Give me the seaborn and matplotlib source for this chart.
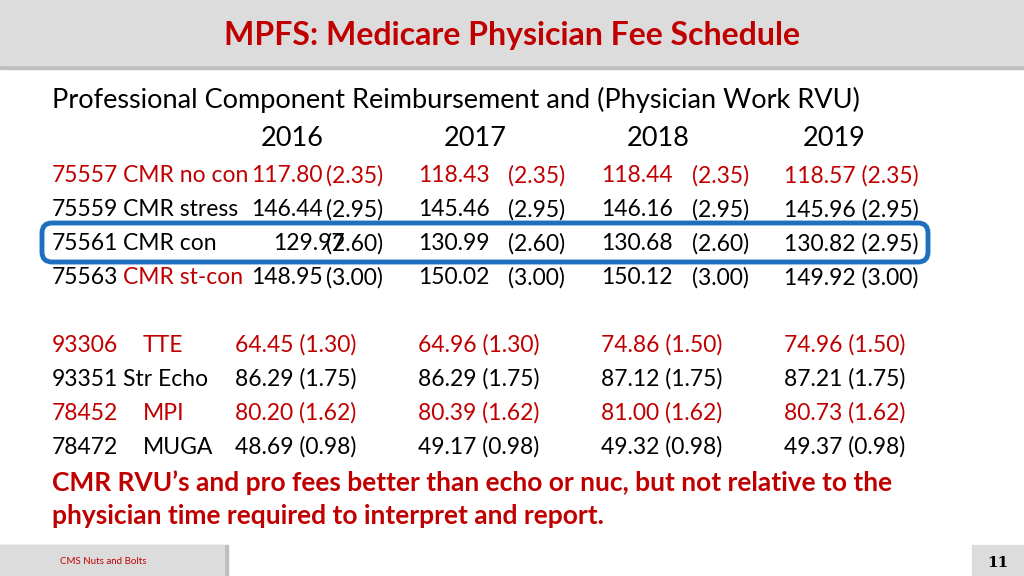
import matplotlib.pyplot as plt
from matplotlib.patches import Rectangle, FancyBboxPatch
import seaborn as sns

sns.set_theme(style="white")
plt.rcParams['font.family'] = 'Lato'
plt.rcParams['text.color'] = 'black'

RED = '#C00000'
years = ['2016', '2017', '2018', '2019']

# CMR rows: code, name, fees per year, RVU per year
cmr_codes = ['75557', '75559', '75561', '75563']
cmr_names = ['CMR no con', 'CMR stress', 'CMR con', 'CMR st-con']
cmr_fees = [[117.80, 118.43, 118.44, 118.57],
            [146.44, 145.46, 146.16, 145.96],
            [129.97, 130.99, 130.68, 130.82],
            [148.95, 150.02, 150.12, 149.92]]
cmr_rvus = [[2.35, 2.35, 2.35, 2.35],
            [2.95, 2.95, 2.95, 2.95],
            [2.60, 2.60, 2.60, 2.95],
            [3.00, 3.00, 3.00, 3.00]]

# comparison rows
cmp_codes = ['93306', '93351', '78452', '78472']
cmp_names = ['TTE', 'Str Echo', 'MPI', 'MUGA']
cmp_fees = [[64.45, 64.96, 74.86, 74.96],
            [86.29, 86.29, 87.12, 87.21],
            [80.20, 80.39, 81.00, 80.73],
            [48.69, 49.17, 49.32, 49.37]]
cmp_rvus = [[1.30, 1.30, 1.50, 1.50],
            [1.75, 1.75, 1.75, 1.75],
            [1.62, 1.62, 1.62, 1.62],
            [0.98, 0.98, 0.98, 0.98]]
cmp_red = [True, False, True, False]

fig = plt.figure(figsize=(10.24, 5.76), dpi=100)
ax = fig.add_axes([0, 0, 1, 1])
ax.set_xlim(0, 1024)
ax.set_ylim(576, 0)
ax.axis('off')

# title band
ax.add_patch(Rectangle((0, 3), 1024, 66, color='#bfbfbf', zorder=0))
ax.add_patch(Rectangle((0, 0), 1024, 65, color='#dcdcdc', zorder=1))
ax.text(512, 35, 'MPFS: Medicare Physician Fee Schedule', ha='center', va='center',
        fontsize=23, fontweight='bold', color=RED, zorder=2)

ax.text(52, 100, 'Professional Component Reimbursement and (Physician Work RVU)',
        va='center', fontsize=19.5)
for x, yr in zip([292, 475, 658, 834], years):
    ax.text(x, 139, yr, ha='center', va='center', fontsize=19.5)

fee_x = [251, 418, 601, 784]
rvu_x = [326, 508, 692]
fs = 16.5
for i in range(4):
    y = 176 + 34 * i
    red_row = i == 0
    c = RED if red_row else 'black'
    ax.text(52, y, cmr_codes[i], va='center', fontsize=fs, color=c)
    ax.text(123, y, cmr_names[i], va='center', fontsize=fs,
            color=RED if i in (0, 3) else 'black')
    for j in range(4):
        if j == 3:
            ax.text(fee_x[j], y, f'{cmr_fees[i][j]:.2f} ({cmr_rvus[i][j]:.2f})',
                    va='center', fontsize=fs, color=c)
        else:
            ax.text(fee_x[j] + (22 if i == 2 and j == 0 else 0), y, f'{cmr_fees[i][j]:.2f}',
                    va='center', fontsize=fs, color=c)
            ax.text(rvu_x[j], y, f'({cmr_rvus[i][j]:.2f})',
                    va='center', fontsize=fs, color=c)

ax.add_patch(FancyBboxPatch((42, 223), 886, 39, boxstyle='round,pad=0,rounding_size=10',
                            fill=False, ec='#1F6FBF', lw=3.5))

cmp_x = [235, 418, 601, 784]
for i in range(4):
    y = 345 + 34 * i
    c = RED if cmp_red[i] else 'black'
    ax.text(52, y, cmp_codes[i], va='center', fontsize=fs, color=c)
    ax.text(123 if i == 1 else 143, y, cmp_names[i], va='center', fontsize=fs, color=c)
    for j in range(4):
        ax.text(cmp_x[j], y, f'{cmp_fees[i][j]:.2f} ({cmp_rvus[i][j]:.2f})',
                va='center', fontsize=fs, color=c)

ax.text(52, 483, 'CMR RVU’s and pro fees better than echo or nuc, but not relative to the',
        va='center', fontsize=19, fontweight='bold', color=RED)
ax.text(52, 516, 'physician time required to interpret and report.',
        va='center', fontsize=19, fontweight='bold', color=RED)

# footer
ax.add_patch(Rectangle((0, 545), 228, 31, color='#bfbfbf', zorder=0))
ax.add_patch(Rectangle((0, 545), 224, 31, color='#dcdcdc', zorder=1))
ax.text(60, 561, 'CMS Nuts and Bolts', va='center', fontsize=7, color=RED, zorder=2)
ax.add_patch(Rectangle((972, 545), 52, 31, color='#dcdcdc', zorder=1))
ax.text(998, 563, '11', ha='center', va='center', fontsize=11, fontweight='bold',
        family='DejaVu Serif', zorder=2)

fig.savefig('out.png', dpi=100)
